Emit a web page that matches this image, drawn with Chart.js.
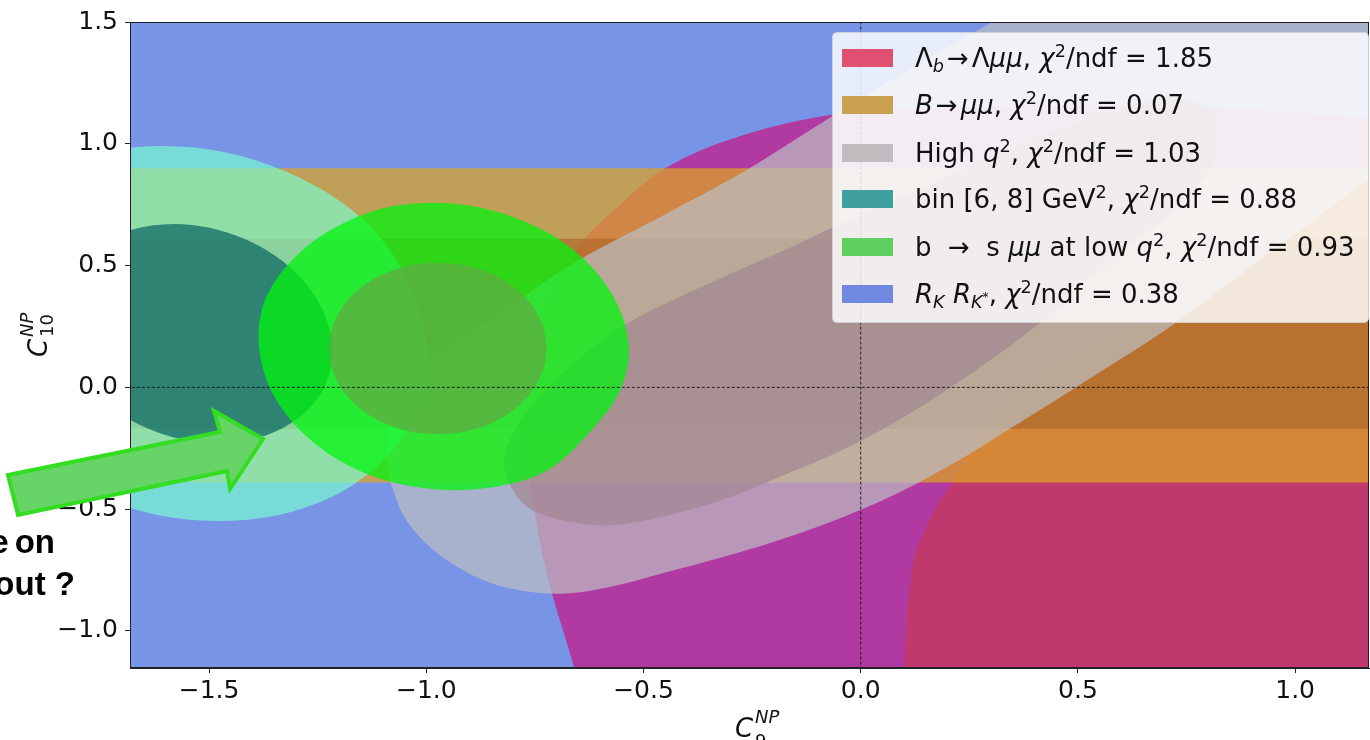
<!DOCTYPE html>
<html lang="en">
<head>
<meta charset="UTF-8">
<title>C9 - C10 new physics fit</title>
<script src="https://cdn.jsdelivr.net/npm/chart.js"></script>
<style>
  body { margin: 0; background: #fff; font-family: "DejaVu Sans", sans-serif; }
  #wrap { position: relative; width: 1370px; height: 740px; overflow: hidden; }
  #plot { position: absolute; left: 0; top: 0; }
  .legend {
    position: absolute; left: 832px; top: 32px; width: 537px; height: 291px;
    background: rgba(255,255,255,0.83); border: 1px solid rgba(200,200,200,0.8);
    border-radius: 5px; box-sizing: border-box;
  }
  .row { position: absolute; left: 0; height: 30px; line-height: 30px; font-size: 26px; color: #111; white-space: nowrap; }
  .patch { position: absolute; left: 9px; top: 6px; width: 51px; height: 18px; }
  .txt { position: absolute; left: 82px; top: 0; }
  .op { margin: 0 3px; }
  sup { font-size: 0.68em; vertical-align: 0.55em; line-height: 0; }
  sub { font-size: 0.68em; vertical-align: -0.3em; line-height: 0; }
  .mlab { position: absolute; width: 60px; height: 40px; color: #111; }
  .mlab span { position: absolute; white-space: nowrap; }
  .big { font-size: 26px; line-height: 26px; font-style: italic; }
  .small { font-size: 18px; line-height: 18px; }
  .slide { position: absolute; font-family: "Liberation Sans", Arial, sans-serif; font-weight: bold;
    font-size: 33px; line-height: 33px; color: #000; white-space: nowrap; text-align: right; }
  svg { position: absolute; left: 0; top: 0; }
</style>
</head>
<body>
<div id="wrap">
  <canvas id="plot" width="1370" height="740"></canvas>
  <div class="legend" id="legend"></div>
  <div class="mlab" style="left:735px; top:715px;">
    <span class="big" style="left:0; top:0;">C</span>
    <span class="small" style="left:20px; top:-7px; font-style:italic;">NP</span>
    <span class="small" style="left:20px; top:17px;">9</span>
  </div>
  <div class="mlab" style="left:25px; top:357px; transform: rotate(-90deg); transform-origin: left top;">
    <span class="big" style="left:0; top:0;">C</span>
    <span class="small" style="left:20px; top:-7px; font-style:italic;">NP</span>
    <span class="small" style="left:20px; top:13px;">10</span>
  </div>
  <div class="slide" style="right:1315px; top:525px; word-spacing:-3px;">more on</div>
  <div class="slide" style="right:1295px; top:567px;">about ?</div>
  <svg width="300" height="560">
    <polygon points="8,475 220,432 214,411 263,439 230,489 227,471 18,515"
      fill="#66d466" stroke="#33dd22" stroke-width="4" stroke-linejoin="miter"/>
  </svg>
</div>

<script>
  // axis ranges and ticks
  const xMin = -1.682, xMax = 1.170;
  const yMin = -1.152, yMax = 1.5;
  const xTicks = [-1.5, -1.0, -0.5, 0.0, 0.5, 1.0];
  const yTicks = [-1.0, -0.5, 0.0, 0.5, 1.0, 1.5];

  // allowed regions in the (C9, C10) plane, contour points
  const rkRegion = [[-2, -2], [2, -2], [2, 2], [-2, 2]];
  const lambdaOuter = [[1.50, 1.05], [1.20, 1.10], [0.90, 1.14], [0.55, 1.16], [0.21, 1.15], [-0.06, 1.12],
    [-0.28, 1.03], [-0.45, 0.90], [-0.56, 0.74], [-0.65, 0.58], [-0.72, 0.35], [-0.76, 0.11],
    [-0.77, -0.14], [-0.76, -0.39], [-0.74, -0.62], [-0.71, -0.85], [-0.66, -1.15], [-0.61, -1.53],
    [1.50, -1.60]];
  const lambdaInner = [[0.09, -1.60], [0.10, -1.15], [0.12, -0.73], [0.16, -0.54], [0.21, -0.39],
    [0.28, -0.18], [0.39, 0.03], [0.55, 0.19], [0.78, 0.31], [1.01, 0.35], [1.36, 0.35], [1.50, -1.60]];
  const bmumuOuter = [[-2, 0.90], [2, 0.90], [2, -0.39], [-2, -0.39]];
  const bmumuInner = [[-2, 0.61], [2, 0.61], [2, -0.17], [-2, -0.17]];
  const highQ2Outer = [[-1.091, -0.282], [-1.070, -0.098], [-1.006, 0.094], [-0.875, 0.250],
    [-0.760, 0.393], [-0.644, 0.528], [-0.453, 0.708], [-0.260, 0.896], [-0.062, 1.117], [0.138, 1.334],
    [0.345, 1.539], [0.575, 1.744], [0.852, 1.907], [1.128, 1.907], [1.312, 1.662], [1.335, 1.253],
    [1.243, 0.966], [1.098, 0.761], [0.898, 0.495], [0.720, 0.258], [0.506, 0.012], [0.345, -0.168],
    [0.230, -0.295], [0.076, -0.442], [-0.076, -0.557], [-0.230, -0.651], [-0.460, -0.765],
    [-0.598, -0.827], [-0.702, -0.847], [-0.829, -0.815], [-0.932, -0.733], [-1.013, -0.618],
    [-1.063, -0.487]];
  const highQ2Inner = [[-0.82, -0.28], [-0.79, -0.16], [-0.73, -0.02], [-0.64, 0.13], [-0.54, 0.26],
    [-0.37, 0.41], [-0.18, 0.56], [0.00, 0.71], [0.18, 0.85], [0.37, 1.00], [0.55, 1.12], [0.71, 1.19],
    [0.81, 1.13], [0.82, 0.97], [0.78, 0.84], [0.69, 0.68], [0.55, 0.48], [0.41, 0.26],
    [0.19, -0.02], [0.00, -0.22], [-0.19, -0.37], [-0.35, -0.48], [-0.54, -0.56], [-0.64, -0.56],
    [-0.76, -0.50], [-0.81, -0.39]];
  const binOuter = [[-0.997, 0.168], [-1.102, 0.606], [-1.326, 0.888], [-1.606, 0.991], [-1.871, 0.888],
    [-2.046, 0.606], [-2.087, 0.221], [-1.981, -0.164], [-1.758, -0.446], [-1.478, -0.549],
    [-1.213, -0.446], [-1.038, -0.164]];
  const binInner = [[-1.220, 0.221], [-1.287, 0.446], [-1.419, 0.610], [-1.581, 0.671], [-1.730, 0.610],
    [-1.825, 0.446], [-1.841, 0.221], [-1.774, -0.004], [-1.642, -0.168], [-1.480, -0.229],
    [-1.331, -0.168], [-1.236, -0.004]];
  const lowQ2Outer = [[-0.534, 0.168], [-0.568, 0.368], [-0.651, 0.549], [-0.771, 0.679], [-0.911, 0.749],
    [-1.059, 0.749], [-1.174, 0.688], [-1.289, 0.557], [-1.369, 0.368], [-1.385, 0.168],
    [-1.351, -0.033], [-1.268, -0.213], [-1.151, -0.344], [-1.008, -0.413], [-0.861, -0.413],
    [-0.725, -0.344], [-0.626, -0.188], [-0.555, -0.016]];
  const lowQ2Inner = [[-0.723, 0.160], [-0.757, 0.336], [-0.848, 0.465], [-0.974, 0.512], [-1.099, 0.465],
    [-1.191, 0.336], [-1.224, 0.160], [-1.191, -0.016], [-1.099, -0.145], [-0.974, -0.192],
    [-0.848, -0.145], [-0.757, -0.016]];
  const zeroLineX = [[-2, 0], [2, 0]];
  const zeroLineY = [[0, -2], [0, 2]];

  const legendLabels = [
    'Λ<sub><i>b</i></sub><span class="op">→</span>Λ<i>μμ</i>, <i>χ</i><sup>2</sup>/ndf = 1.85',
    '<i>B</i><span class="op">→</span><i>μμ</i>, <i>χ</i><sup>2</sup>/ndf = 0.07',
    'High <i>q</i><sup>2</sup>, <i>χ</i><sup>2</sup>/ndf = 1.03',
    'bin [6, 8] GeV<sup>2</sup>, <i>χ</i><sup>2</sup>/ndf = 0.88',
    'b &nbsp;→&nbsp; s <i>μμ</i> at low <i>q</i><sup>2</sup>, <i>χ</i><sup>2</sup>/ndf = 0.93',
    '<i>R<sub>K</sub></i> <i>R<sub>K<sup>*</sup></sub></i>, <i>χ</i><sup>2</sup>/ndf = 0.38'
  ];
  const legendColors = ['#e05070', '#c8a050', '#c0bcc0', '#40a0a0', '#60d060', '#7088e0'];

  // bottom to top
  const layers = [
    { pts: rkRegion, color: '#7894e6', tension: 0 },
    { pts: lambdaOuter, color: 'rgba(195,28,137,0.75)', tension: 0.35 },
    { pts: lambdaInner, color: 'rgba(197,58,91,0.75)', tension: 0.35 },
    { pts: bmumuOuter, color: 'rgba(221,163,35,0.72)', tension: 0 },
    { pts: bmumuInner, color: 'rgba(175,106,45,0.72)', tension: 0 },
    { pts: highQ2Outer, color: 'rgba(187,190,194,0.71)', tension: 0.35 },
    { pts: highQ2Inner, color: 'rgba(162,135,145,0.71)', tension: 0.35 },
    { pts: binOuter, color: 'rgba(120,255,209,0.667)', tension: 0.35 },
    { pts: binInner, color: 'rgba(0,92,92,0.667)', tension: 0.35 },
    { pts: lowQ2Outer, color: 'rgba(0,246,12,0.74)', tension: 0.35 },
    { pts: lowQ2Inner, color: 'rgba(92,174,66,0.8)', tension: 0.35 }
  ];

  const toXY = pts => pts.map(p => ({ x: p[0], y: p[1] }));

  // closed outline; smooth shapes get one point of overlap on each side so the
  // curve has no corner where it starts and ends
  const closeLoop = (pts, smooth) => smooth
    ? [pts[pts.length - 1]].concat(pts, [pts[0], pts[1]])
    : pts.concat([pts[0]]);

  let datasets = layers.map((l, i) => ({
    data: toXY(closeLoop(l.pts, l.tension > 0)),
    showLine: true,
    fill: 'shape',
    backgroundColor: l.color,
    borderColor: 'transparent',
    borderWidth: 0,
    tension: l.tension,
    pointRadius: 0,
    order: layers.length + 2 - i
  }));

  [zeroLineX, zeroLineY].forEach(line => {
    datasets.push({
      data: toXY(line),
      showLine: true,
      fill: false,
      borderColor: 'rgba(20,20,20,0.9)',
      borderWidth: 1,
      borderDash: [3, 2],
      pointRadius: 0,
      order: 0
    });
  });

  const frame = {
    id: 'frame',
    afterDatasetsDraw(chart) {
      const a = chart.chartArea, ctx = chart.ctx;
      ctx.save();
      ctx.strokeStyle = '#222';
      ctx.lineWidth = 1;
      ctx.strokeRect(a.left + 0.5, a.top + 0.5, a.right - a.left - 1, a.bottom - a.top - 1);
      ctx.restore();
    }
  };

  const fmt = v => (v < 0 ? '\u2212' : '') + Math.abs(v).toFixed(1);
  const tickFont = { family: 'DejaVu Sans', size: 25 };

  new Chart(document.getElementById('plot').getContext('2d'), {
    type: 'scatter',
    data: { datasets: datasets },
    options: {
      responsive: false,
      animation: false,
      layout: { padding: { top: 20, right: 1, left: 0, bottom: 0 } },
      elements: { line: { capBezierPoints: false }, point: { radius: 0 } },
      plugins: { legend: { display: false }, tooltip: { enabled: false } },
      scales: {
        x: {
          type: 'linear', min: xMin, max: xMax,
          afterBuildTicks: s => { s.ticks = xTicks.map(v => ({ value: v })); },
          afterFit: s => { s.height = 72; },
          ticks: { callback: fmt, font: tickFont, color: '#111', padding: 3, maxRotation: 0 },
          grid: { drawOnChartArea: false, drawTicks: true, tickLength: 5, color: '#222' },
          border: { display: true, color: '#222' }
        },
        y: {
          type: 'linear', min: yMin, max: yMax,
          afterBuildTicks: s => { s.ticks = yTicks.map(v => ({ value: v })); },
          afterFit: s => { s.width = 130; },
          ticks: { callback: fmt, font: tickFont, color: '#111', padding: 7 },
          grid: { drawOnChartArea: false, drawTicks: true, tickLength: 5, color: '#222' },
          border: { display: true, color: '#222' }
        }
      }
    },
    plugins: [frame]
  });

  // legend drawn as html so the labels can keep their sub- and superscripts
  const rowCenters = [26, 73, 121, 167, 215, 262];
  const legendBox = document.getElementById('legend');
  legendLabels.forEach((lab, i) => {
    const row = document.createElement('div');
    row.className = 'row';
    row.style.top = (rowCenters[i] - 16) + 'px';
    row.innerHTML = '<div class="patch" style="background:' + legendColors[i] + '"></div>' +
      '<div class="txt">' + lab + '</div>';
    legendBox.appendChild(row);
  });
</script>
</body>
</html>
